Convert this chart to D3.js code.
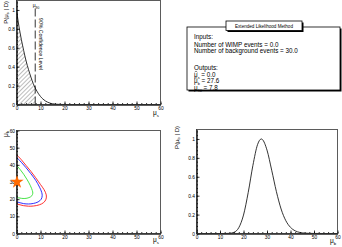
<!DOCTYPE html>
<html><head><meta charset="utf-8">
<script src="https://cdn.jsdelivr.net/npm/d3@7"></script>
<style>body{margin:0;background:#fff}svg{display:block;font-family:"Liberation Sans",Arial,sans-serif}</style>
</head><body><svg id="c" width="342" height="247"></svg>
<script>
// ---- data ----
const sGrid = [0,1,2,3,4,5,6,7,7.8,8,9,10,11,12,13,14,15,16,18,20,25,30,40,50,60];
const sPost = [1,0.83,0.69,0.57,0.46,0.37,0.29,0.22,0.175,0.165,0.12,0.085,0.058,0.038,0.024,0.014,0.008,0.004,0.001,0,0,0,0,0,0];
const upperLimit = 7.8;
const bGrid = [0,10,12,14,16,18,20,22,24,26,27.6,28,30,32,34,36,38,40,42,44,46,48,50,55,60];
const bPost = [0,0,0.0001,0.0015,0.013,0.062,0.195,0.433,0.72,0.942,1,0.995,0.882,0.669,0.443,0.259,0.136,0.065,0.028,0.011,0.004,0.0015,0.0005,0,0];
const redS   = [0,2,4,6,8,10,11.5,12.4,12.3,11.3,9.5,7,5,3,1.5,0];
const redB   = [46,43,39.6,36.2,32.5,28.5,25.5,22.5,20,18,16.7,16,15.9,16.2,16.7,17.3];
const blueS  = [0,2,4,6,8,9.6,10.5,10.7,10.3,9,7,5,3,1.5,0];
const blueB  = [44.4,41.5,38.3,34.8,31,27,24,22,20,18.4,17.5,17.2,17.4,17.9,18.5];
const greenS = [0,1.5,3,4.5,5.8,6.6,6.8,6.4,5.2,3.5,2,0.8,0];
const greenB = [39.7,37.3,34.5,31.2,27.8,25,23.5,22,20.9,20.4,20.5,20.8,21.1];
const bestFit = [0, 30];
const muTicks = [0,10,20,30,40,50,60];
const probTicks = [0,0.2,0.4,0.6,0.8,1];
const probLabels = ["0","0.2","0.4","0.6","0.8","1"];
const bTicks = [0,10,20,30,40,50,60];
const inputsLines = ["Number of WIMP events = 0.0","Number of background events = 30.0"];
const outputVals = ["0.0","27.6","7.8"];

// ---- drawing ----
const svg = d3.select("#c");
const FS = 4.8;
const defs = svg.append("defs");
const pat = defs.append("pattern").attr("id","hatch").attr("patternUnits","userSpaceOnUse")
  .attr("width",3).attr("height",3).attr("patternTransform","rotate(45)");
pat.append("line").attr("x1",0).attr("y1",0).attr("x2",0).attr("y2",3).attr("stroke","#222").attr("stroke-width",0.6);

function axes(g, x, y, xt, yt, yfmt, xminor, yminor){
  const ax = d3.axisBottom(x).tickValues(xt).tickSize(-3).tickSizeOuter(0).tickPadding(2).tickFormat(d3.format("d"));
  const ay = d3.axisLeft(y).tickValues(yt).tickSize(-3).tickSizeOuter(0).tickPadding(1.5).tickFormat(yfmt);
  const y0 = y.range()[0], x0 = x.range()[0];
  g.append("g").attr("transform",`translate(0,${y0})`).call(ax);
  g.append("g").attr("transform",`translate(${x0},0)`).call(ay);
  g.append("g").attr("transform",`translate(0,${y0})`).call(d3.axisBottom(x).tickValues(xminor).tickSize(-1.5).tickSizeOuter(0).tickFormat(""));
  g.append("g").attr("transform",`translate(${x0},0)`).call(d3.axisLeft(y).tickValues(yminor).tickSize(-1.5).tickSizeOuter(0).tickFormat(""));
  g.selectAll("text").attr("font-size",FS).attr("font-family","Liberation Sans, Arial, sans-serif").attr("fill","#000");
  g.selectAll("path.domain, line").attr("stroke","#000").attr("stroke-width",0.8);
  const [xa,xb] = x.range(), [ya,yb] = y.range();
  g.append("rect").attr("x",xa).attr("y",yb).attr("width",xb-xa).attr("height",ya-yb)
    .attr("fill","none").attr("stroke","#333").attr("stroke-width",0.8);
}
function subLabel(g, x, y, main, sub, fs, rot, anchor){
  const t = g.append("text").attr("transform",`translate(${x},${y}) rotate(${rot||0})`)
    .attr("font-size",fs).attr("text-anchor",anchor||"start");
  t.append("tspan").text(main);
  t.append("tspan").attr("font-size",fs*0.65).attr("dy",fs*0.3).text(sub);
  return t;
}
function postLabel(g, x, y, sub){
  const fs = 6;
  const t = g.append("text").attr("transform",`translate(${x},${y}) rotate(-90)`)
    .attr("font-size",fs).attr("text-anchor","end");
  t.append("tspan").text("P(μ");
  t.append("tspan").attr("font-size",fs*0.65).attr("dy",fs*0.3).text(sub);
  t.append("tspan").attr("dy",-fs*0.3).text(" | D)");
}
const minorMu = d3.range(0,60.01,2);

// Panel 1: posterior of mu_s
{
  const g = svg.append("g");
  const x = d3.scaleLinear().domain([0,60]).range([16.5,160.5]);
  const y = d3.scaleLinear().domain([0,1.1]).range([104.5,0.5]);
  const pts = sGrid.map((s,i)=>[s,sPost[i]]);
  const shaded = pts.filter(d=>d[0]<=upperLimit);
  g.append("path").datum(shaded)
    .attr("d",d3.area().x(d=>x(d[0])).y0(y(0)).y1(d=>y(d[1])).curve(d3.curveMonotoneX))
    .attr("fill","url(#hatch)").attr("stroke","none");
  g.append("path").datum(pts)
    .attr("d",d3.line().x(d=>x(d[0])).y(d=>y(d[1])).curve(d3.curveMonotoneX))
    .attr("fill","none").attr("stroke","#000").attr("stroke-width",0.8);
  axes(g,x,y,muTicks,probTicks,(d,i)=>probLabels[i],minorMu,d3.range(0,1.101,0.04));
  g.append("line").attr("x1",x(upperLimit)).attr("x2",x(upperLimit)).attr("y1",y(0)).attr("y2",y(1.03))
    .attr("stroke","#000").attr("stroke-width",0.8).attr("stroke-dasharray","8,3");
  subLabel(g, x(upperLimit)-2.5, 7, "μ", "90", 5);
  g.append("text").attr("transform",`translate(${x(upperLimit)+3.5},18) rotate(90)`)
    .attr("font-size",5.2).text("90% Confidence Level");
  postLabel(g, 7.5, 1, "s");
  subLabel(g, 153, 115, "μ", "s", 6.5);
}
// Panel 3: contours
{
  const g = svg.append("g");
  const x = d3.scaleLinear().domain([0,60]).range([16.5,160.5]);
  const y = d3.scaleLinear().domain([0,60]).range([233.5,130.5]);
  const line = d3.line().x(d=>x(d[0])).y(d=>y(d[1])).curve(d3.curveCatmullRom);
  [[redS,redB,"#ff1a1a"],[blueS,blueB,"#1a1aff"],[greenS,greenB,"#33e033"]].forEach(([a,b,c])=>{
    g.append("path").datum(a.map((s,i)=>[s,b[i]])).attr("d",line)
      .attr("fill","none").attr("stroke",c).attr("stroke-width",0.9);
  });
  axes(g,x,y,muTicks,bTicks,d3.format("d"),minorMu,d3.range(0,60.01,2));
  g.append("path").attr("d",d3.symbol(d3.symbolStar,55)())
    .attr("transform",`translate(${x(bestFit[0])+0.5},${y(bestFit[1])})`).attr("fill","#ff6a00");
  subLabel(g, 153, 242, "μ", "s", 6.5);
  subLabel(g, 7.5, 131, "μ", "b", 6.5, -90, "end");
}
// Panel 4: posterior of mu_b
{
  const g = svg.append("g");
  const x = d3.scaleLinear().domain([0,60]).range([196.5,337.5]);
  const y = d3.scaleLinear().domain([0,1.1]).range([233.5,129.5]);
  g.append("path").datum(bGrid.map((b,i)=>[b,bPost[i]]))
    .attr("d",d3.line().x(d=>x(d[0])).y(d=>y(d[1])).curve(d3.curveMonotoneX))
    .attr("fill","none").attr("stroke","#000").attr("stroke-width",0.8);
  axes(g,x,y,muTicks,probTicks,(d,i)=>probLabels[i],minorMu,d3.range(0,1.101,0.04));
  postLabel(g, 178.5, 126, "b");
  subLabel(g, 330, 243, "μ", "b", 6.5);
}
// Panel 2: text box
{
  const g = svg.append("g");
  g.append("rect").attr("x",188.5).attr("y",28.5).attr("width",153).attr("height",63).attr("fill","#000");
  g.append("rect").attr("x",187).attr("y",27).attr("width",153).attr("height",63).attr("fill","#fff").attr("stroke","#000").attr("stroke-width",0.8);
  g.append("rect").attr("x",227.5).attr("y",22.5).attr("width",76).attr("height",9.5).attr("fill","#000");
  g.append("rect").attr("x",226).attr("y",21).attr("width",76).attr("height",9.5).attr("fill","#fff").attr("stroke","#000").attr("stroke-width",0.8);
  g.append("text").attr("x",264).attr("y",27.6).attr("text-anchor","middle").attr("font-size",4.6).text("Extended Likelihood Method");
  const fs = 6.3;
  g.append("text").attr("x",194).attr("y",39.3).attr("font-size",fs).text("Inputs:");
  inputsLines.forEach((t,i)=>g.append("text").attr("x",194).attr("y",46.8+i*6.5).attr("font-size",fs).text(t));
  g.append("text").attr("x",194).attr("y",70.3).attr("font-size",fs).text("Outputs:");
  const subs = ["s","b","90"], hats = [true,true,false];
  outputVals.forEach((v,i)=>{
    const yy = 76.8+i*6.5;
    const t = g.append("text").attr("x",194).attr("y",yy).attr("font-size",fs);
    t.append("tspan").text("μ");
    t.append("tspan").attr("font-size",fs*0.6).attr("dy",fs*0.3).text(subs[i]);
    t.append("tspan").attr("dy",-fs*0.3).text(" = "+v);
    if (hats[i]) g.append("path").attr("d",`M${194.6},${yy-4.6}L${196},${yy-5.8}L${197.4},${yy-4.6}`)
      .attr("fill","none").attr("stroke","#000").attr("stroke-width",0.5);
  });
}
</script></body></html>
